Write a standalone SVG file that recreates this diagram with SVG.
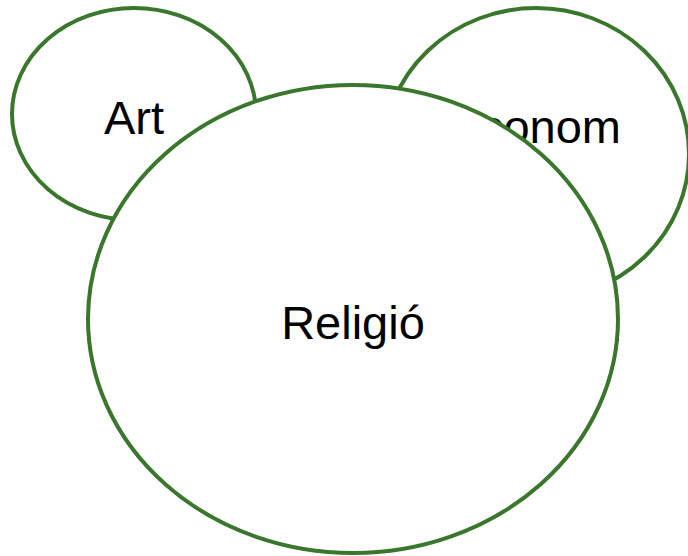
<svg xmlns="http://www.w3.org/2000/svg" width="688" height="556" viewBox="0 0 688 556">
<style>
.n{fill:#ffffff;stroke:#3a762b;stroke-width:4}
.t{font-family:"Liberation Sans",Arial,sans-serif;font-size:47px;fill:#000000;text-anchor:middle}
</style>
<rect width="688" height="556" fill="#ffffff"/>
<g id="art"><ellipse class="n" cx="134" cy="114" rx="122" ry="106"/><text class="t" x="134" y="134">Art</text></g>
<g id="economia"><ellipse class="n" cx="536" cy="154" rx="153" ry="146"/><text class="t" x="621" y="143" style="text-anchor:end">Econom</text></g>
<g id="religio"><ellipse class="n" cx="353" cy="319" rx="265" ry="234"/><text class="t" x="353" y="339">Religió</text></g>
<g id="connectors"/>
</svg>
